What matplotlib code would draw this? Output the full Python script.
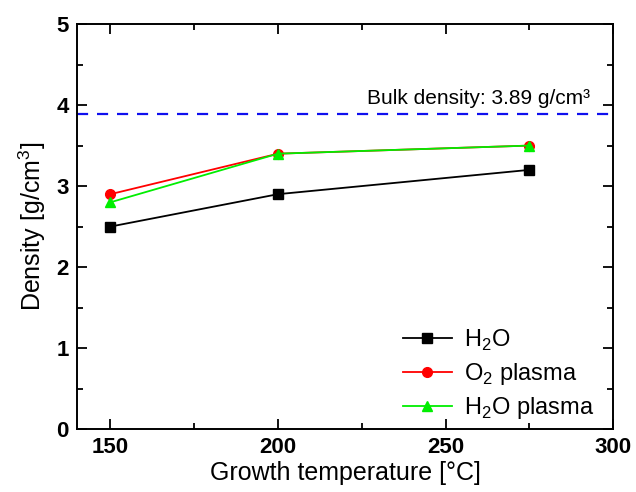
import matplotlib
matplotlib.use("Agg")
import matplotlib.pyplot as plt
from matplotlib.ticker import MultipleLocator

plt.rcParams['font.family'] = ['Liberation Sans', 'DejaVu Sans']
plt.rcParams['mathtext.fontset'] = 'custom'
plt.rcParams['mathtext.rm'] = 'Liberation Sans'

temperature = [150, 200, 275]
h2o = [2.5, 2.9, 3.2]
o2_plasma = [2.9, 3.4, 3.5]
h2o_plasma = [2.8, 3.4, 3.5]
bulk_density = 3.89

fig = plt.figure(figsize=(6.36, 4.92), dpi=100)
ax = fig.add_axes([0.121, 0.128, 0.843, 0.823])

ax.plot(temperature, h2o, color='black', marker='s', markersize=6.5, lw=1.3, label='H$_2$O')
ax.plot(temperature, o2_plasma, color='red', marker='o', markersize=7, lw=1.3, label='O$_2$ plasma')
ax.plot(temperature, h2o_plasma, color='#00ee00', marker='^', markersize=7.5, lw=1.3, label='H$_2$O plasma')

ax.axhline(bulk_density, color='#1010ee', ls=(0, (5, 4)), lw=1.6)
ax.text(293, bulk_density + 0.07, 'Bulk density: %.2f g/cm³' % bulk_density,
        ha='right', va='bottom', fontsize=15)

ax.set_xlim(140, 300)
ax.set_ylim(0, 5)
ax.xaxis.set_major_locator(MultipleLocator(50))
ax.xaxis.set_minor_locator(MultipleLocator(25))
ax.yaxis.set_major_locator(MultipleLocator(1))
ax.yaxis.set_minor_locator(MultipleLocator(0.5))
ax.tick_params(which='both', direction='in', top=True, right=True, width=1.3)
ax.tick_params(which='major', length=7, labelsize=16, pad=6)
ax.tick_params(which='minor', length=4)
for lbl in ax.get_xticklabels() + ax.get_yticklabels():
    lbl.set_fontweight('bold')
for sp in ax.spines.values():
    sp.set_linewidth(1.4)

ax.set_xlabel('Growth temperature [°C]', fontsize=18, labelpad=2)
ax.set_ylabel('Density [g/cm$^3$]', fontsize=18, labelpad=6)

ax.legend(loc='lower right', frameon=False, fontsize=17, handlelength=2.1,
          handletextpad=0.5, borderaxespad=0.4, labelspacing=0.35,
          bbox_to_anchor=(1.0, -0.028))

fig.savefig('out.png', dpi=100)
